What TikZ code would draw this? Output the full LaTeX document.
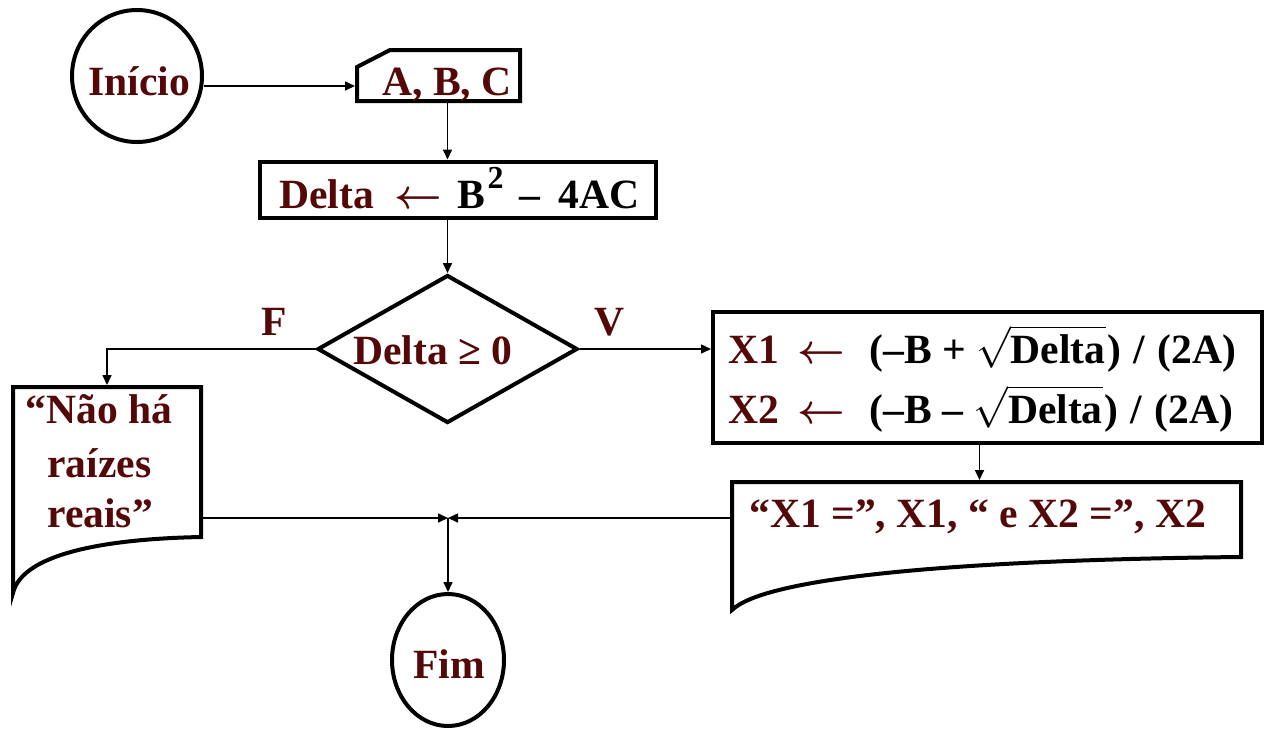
\documentclass[tikz,border=0pt]{standalone}
\usepackage{fontspec}
\setmainfont{Liberation Serif}
\usetikzlibrary{shapes.geometric,arrows.meta,calc}
\definecolor{txtred}{RGB}{84,8,8}
\newcommand{\larr}{{\boldmath$\leftarrow$}}
\begin{document}
\begin{tikzpicture}[x=0.5pt,y=-0.5pt,
  shapeline/.style={draw=black,line width=2pt},
  conn/.style={draw=black,line width=0.8pt},
  arr/.style={conn,-{Triangle[length=5pt,width=4.5pt]}},
  lbl/.style={font=\bfseries\fontsize{20.8}{25}\selectfont,text=txtred,inner sep=0pt,anchor=base west},
  anchorbox/.style={rectangle,inner sep=0pt,outer sep=0pt}]
\fill[white] (0,0) rectangle (1265,730);
\path[use as bounding box] (0,0) rectangle (1265,730);

% Inicio
\node[ellipse,shapeline,minimum width=65pt,minimum height=66pt,inner sep=0pt] (ini) at (137,76) {};
\node[lbl] (iniT) at (88,95) {Início};

% input A, B, C
\node[anchorbox,minimum width=83.5pt,minimum height=27.5pt] (abc) at (438.5,75.5) {};
\draw[shapeline] (357,67) -- (390,50) -- (520,50) -- (520,101) -- (357,101) -- cycle;
\node[lbl] (abcT) at (382,95) {A, B, C};

% Delta box
\node[rectangle,shapeline,minimum width=198pt,minimum height=28pt,inner sep=0pt] (delta) at (457.5,189.5) {};
\node[lbl] (deltaT) at (279,208) {Delta\hspace{10pt}\larr\hspace{8pt}{\color{black}B\hspace{1pt}\raisebox{10pt}{\fontsize{16}{16}\selectfont 2}\hspace{8pt}–\hspace{9pt}4AC}};

% decision
\node[diamond,shapeline,minimum width=130pt,minimum height=74pt,inner sep=0pt] (dia) at (447.5,349) {};
\node[lbl] (diaT) at (353,364) {Delta ≥ 0};
\node[lbl] (lblF) at (261,335) {F};
\node[lbl] (lblV) at (594,335) {V};

% doc 1
\node[anchorbox,minimum width=96pt,minimum height=104pt] (doc1) at (107,489) {};
\draw[shapeline] (13,387) -- (201,387) -- (201,537) .. controls (100,539) and (22,555) .. (13,593) -- cycle;
\node[lbl] (doc1a) at (25,423) {“Não há};
\node[lbl] (doc1b) at (47,477) {raízes};
\node[lbl] (doc1c) at (47,527) {reais”};

% box 2
\node[rectangle,shapeline,minimum width=274.5pt,minimum height=65.5pt,inner sep=0pt] (box2) at (987.5,377.5) {};
\node[lbl] (box2a) at (728.5,363) {X1\hspace{9pt}\larr\hspace{12pt}{\color{black}(–B + $\sqrt{\mbox{Delta}}$\hspace{1pt}) \hspace{1pt}/\hspace{1pt} (2A)}};
\node[lbl] (box2b) at (728.5,423) {X2\hspace{9pt}\larr\hspace{12pt}{\color{black}(–B – $\sqrt{\mbox{Delta}}$\hspace{1pt}) \hspace{1pt}/\hspace{1pt} (2A)}};

% doc 2
\node[anchorbox,minimum width=256.5pt,minimum height=66pt] (doc2) at (986.5,546) {};
\draw[shapeline] (732,482) -- (1241,482) -- (1241,557) .. controls (950,560) and (765,578) .. (732,610) -- cycle;
\node[lbl] (doc2T) at (749,527) {“X1 =”, X1, “ e X2 =”, X2};

% Fim
\node[ellipse,shapeline,minimum width=56pt,minimum height=66pt,inner sep=0pt] (fim) at (448,660) {};
\node[lbl] (fimT) at (413,678) {Fim};

% connectors
\coordinate (j) at (448,518);
\draw[arr] ([yshift=-5pt]ini.east) -- ([yshift=-5pt]ini.east -| abc.west);
\draw[arr] (abc.south -| dia.north) -- (delta.north -| dia.north);
\draw[arr] (delta.south -| dia.north) -- (dia.north);
\draw[arr] (dia.west) -| (doc1.north);
\draw[arr] (dia.east) -- (dia.east -| box2.west);
\draw[arr] ([xshift=-4pt]box2.south) -- ([xshift=-4pt]box2.south |- doc2.north);
\draw[arr] (doc1.east |- j) -- (j);
\draw[arr] (doc2.west |- j) -- (j);
\draw[arr] (j) -- (fim.north);
\end{tikzpicture}
\end{document}
